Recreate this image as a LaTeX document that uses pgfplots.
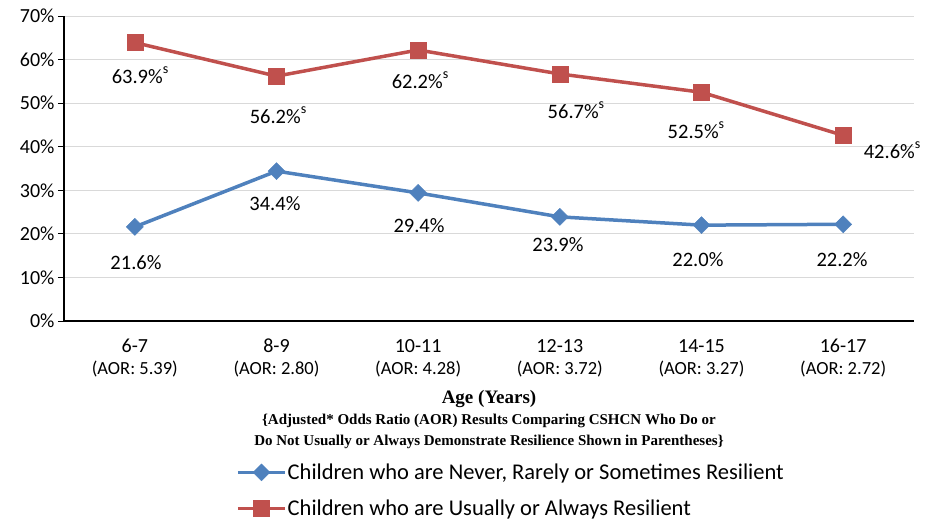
\documentclass[border=0pt]{standalone}
\usepackage{fontspec}
\setmainfont{Carlito}
\newfontfamily\timesfont{Liberation Serif}
\usepackage{pgfplots}
\pgfplotsset{compat=1.18}
\definecolor{cblue}{HTML}{4F81BD}
\definecolor{cred}{HTML}{C0504D}
\newcommand{\lblfont}{\fontsize{20.5}{22}\selectfont}
\newcommand{\sups}{\raisebox{0.5em}{\fontsize{14}{14}\selectfont s}}
\begin{document}
\begin{tikzpicture}
\begin{axis}[
  scale only axis, width=850pt, height=305pt,
  xmin=-0.5, xmax=5.5, ymin=0, ymax=70,
  axis lines=left,
  axis line style={-, black, line width=1.3pt},
  clip=false,
  xtick={0,1,2,3,4,5},
  xticklabels={
    {6-7\\{\fontsize{18.5}{20}\selectfont (AOR: 5.39)}},
    {8-9\\{\fontsize{18.5}{20}\selectfont (AOR: 2.80)}},
    {10-11\\{\fontsize{18.5}{20}\selectfont (AOR: 4.28)}},
    {12-13\\{\fontsize{18.5}{20}\selectfont (AOR: 3.72)}},
    {14-15\\{\fontsize{18.5}{20}\selectfont (AOR: 3.27)}},
    {16-17\\{\fontsize{18.5}{20}\selectfont (AOR: 2.72)}}},
  x tick style={draw=none},
  xticklabel style={align=center, font=\fontsize{20}{22}\selectfont, inner sep=2pt, yshift=-10pt},
  extra x ticks={-0.5,0.5,1.5,2.5,3.5,4.5,5.5},
  extra x tick labels={},
  extra x tick style={grid=none, tick style={draw=black, line width=1pt}, major tick length=6pt},
  ytick={0,10,20,30,40,50,60,70},
  yticklabels={0\%,10\%,20\%,30\%,40\%,50\%,60\%,70\%},
  yticklabel style={font=\fontsize{20}{22}\selectfont},
  y tick style={draw=black, line width=1pt},
  major tick length=6pt,
  tick align=outside,
  ymajorgrids,
  grid style={draw=black!15, line width=1pt},
  xlabel={{\fontsize{19}{22}\selectfont Age (Years)}\\[1pt]
    \{Adjusted* Odds Ratio (AOR) Results Comparing CSHCN Who Do or\\
    Do Not Usually or Always Demonstrate Resilience Shown in Parentheses\}},
  xlabel style={font=\timesfont\bfseries\fontsize{15}{20.5}\selectfont, align=center, at={(axis description cs:0.5,-0.226)}, anchor=north, inner sep=0pt},
  legend style={draw=none, fill=none, at={(axis description cs:0.2024,-0.5555)}, anchor=west,
    font=\fontsize{22.5}{24}\selectfont, row sep=17pt, inner sep=0pt, nodes={inner sep=1pt}},
  legend cell align=left,
  legend image code/.code={\draw[mark repeat=2,mark phase=2,#1] plot coordinates {(0pt,0pt) (23.5pt,0pt) (47pt,0pt)};},
]
\addplot[color=cblue, line width=3.5pt, mark=square*, mark size=6pt, mark options={solid, rotate=45, fill=cblue, draw=cblue, line width=0.5pt}]
  coordinates {(0,21.6) (1,34.4) (2,29.4) (3,23.9) (4,22.0) (5,22.2)};
\addlegendentry{Children who are Never, Rarely or Sometimes Resilient}
\addplot[color=cred, line width=3.5pt, mark=square*, mark size=8pt, mark options={solid, fill=cred, draw=cred, line width=0.5pt}]
  coordinates {(0,63.9) (1,56.2) (2,62.2) (3,56.7) (4,52.5) (5,42.6)};
\addlegendentry{Children who are Usually or Always Resilient}
% data labels
\node[font=\lblfont] at (axis cs:0.0365,56.46) {63.9\%\sups};
\node[font=\lblfont] at (axis cs:1.0106,47.28) {56.2\%\sups};
\node[font=\lblfont] at (axis cs:2.013,55.31) {62.2\%\sups};
\node[font=\lblfont] at (axis cs:3.114,48.43) {56.7\%\sups};
\node[font=\lblfont] at (axis cs:3.961,43.84) {52.5\%\sups};
\node[font=\lblfont] at (axis cs:5.345,39.25) {42.6\%\sups};
\node[font=\lblfont] at (axis cs:0.008,13.31) {21.6\%};
\node[font=\lblfont] at (axis cs:0.989,26.85) {34.4\%};
\node[font=\lblfont] at (axis cs:2.006,21.80) {29.4\%};
\node[font=\lblfont] at (axis cs:2.987,17.44) {23.9\%};
\node[font=\lblfont] at (axis cs:3.975,14.0) {22.0\%};
\node[font=\lblfont] at (axis cs:4.992,14.0) {22.2\%};
\end{axis}
\path[use as bounding box] (-64pt,-202pt) rectangle (871pt,321pt);
\end{tikzpicture}
\end{document}
